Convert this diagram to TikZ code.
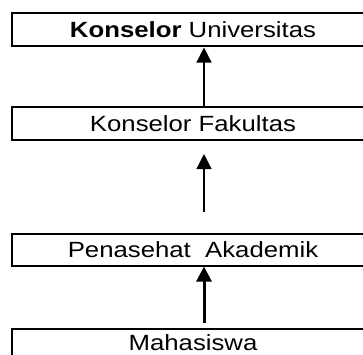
\documentclass[tikz,border=0pt]{standalone}
\usepackage{fontspec}
\setmainfont[FakeStretch=1.17]{Liberation Sans}
\usetikzlibrary{arrows.meta}
\begin{document}
\begin{tikzpicture}[x=1pt,y=-1pt,
  level/.style={draw, line width=2pt, minimum width=362pt, inner sep=0pt,
    text height=15.7pt, text depth=0pt,
    font=\fontsize{22}{26}\selectfont},
  uparrow/.style={line width=1.2pt, -{Triangle[length=15pt,width=15pt]}},
  boldarrow/.style={line width=3pt, -{Triangle[length=15pt,width=15pt]}}]
  \useasboundingbox (0,0) rectangle (363,354);
  \clip (0,0) rectangle (363,354);

  % hierarchy levels, top to bottom
  \node[level, minimum height=33pt] (univ) at (193,29.5) {\textbf{Konselor} Universitas};
  \node[level, minimum height=33pt] (fak)  at (193,123.5) {Konselor Fakultas};
  \node[level, minimum height=32pt] (pa)   at (193,250) {Penasehat\ \ Akademik};
  \node[level, minimum height=29pt] (mhs)  at (193,343) {Mahasiswa};

  % connectors
  \coordinate (a1s) at (204,106);
  \coordinate (a1e) at (204,47.5);
  \draw[uparrow] (a1s) -- (a1e);

  \coordinate (a2s) at (204,212);
  \coordinate (a2e) at (204,154);
  \draw[uparrow] (a2s) -- (a2e);

  \coordinate (a3s) at (204,323);
  \coordinate (a3e) at (204,266.5);
  \draw[boldarrow] (a3s) -- (a3e);
\end{tikzpicture}
\end{document}
